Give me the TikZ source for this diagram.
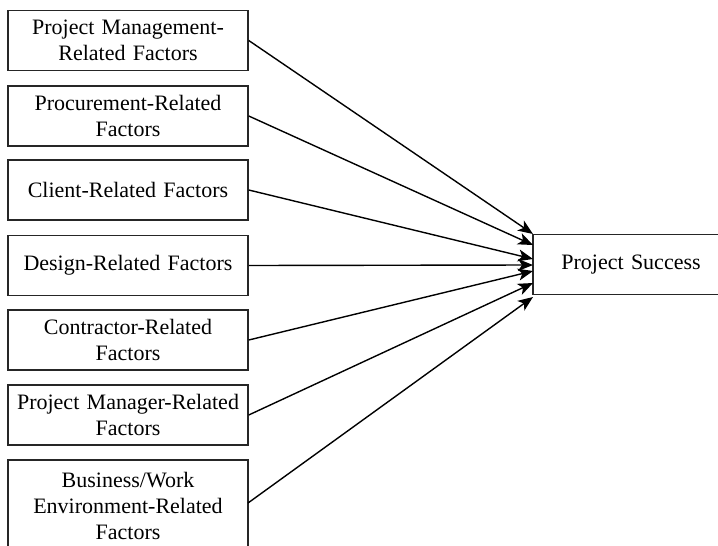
\documentclass[tikz,border=0pt]{standalone}
\usepackage{fontspec}
\setmainfont{Liberation Serif}
\usetikzlibrary{arrows.meta,calc}
\begin{document}
\begin{tikzpicture}[x=1pt,y=-1pt,
  factor/.style={draw=black!85, line width=1.5pt, minimum width=240pt, minimum height=60pt,
    inner sep=0pt, align=center, font=\fontsize{22pt}{26pt}\selectfont, text width=238pt},
  link/.style={draw=black, line width=1.4pt, -{Stealth[length=15pt,width=12pt,inset=4pt]}}]
\useasboundingbox (0,0) rectangle (718,546);
\begin{scope}
\clip (0,0) rectangle (718,546);
\node[factor] (b1) at (128,40.5) {Project Management-\\Related Factors};
\node[factor] (b2) at (128,116) {Procurement-Related\\Factors};
\node[factor] (b3) at (128,190) {Client-Related Factors};
\node[factor] (b4) at (128,265.5) {Design-Related Factors};
\node[factor] (b5) at (128,340) {Contractor-Related\\Factors};
\node[factor] (b6) at (128,415) {Project Manager-Related\\Factors};
\node[factor, minimum height=92pt] (b7) at (128,506) {Business/Work\\Environment-Related\\Factors};
\node[factor, minimum width=196pt, text width=192pt] (ps) at (631,264.5) {Project Success};
\coordinate (s7) at (248,503);
\coordinate (t1) at (533,234);
\coordinate (t2) at (533,245);
\coordinate (t3) at (533,259);
\coordinate (t4) at (533,265);
\coordinate (t5) at (533,271);
\coordinate (t6) at (533,283);
\coordinate (t7) at (533,297);
\draw[link] (b1.east) -- (t1);
\draw[link] (b2.east) -- (t2);
\draw[link] (b3.east) -- (t3);
\draw[link] (b4.east) -- (t4);
\draw[link] (b5.east) -- (t5);
\draw[link] (b6.east) -- (t6);
\draw[link] (s7) -- (t7);
\end{scope}
\end{tikzpicture}
\end{document}
